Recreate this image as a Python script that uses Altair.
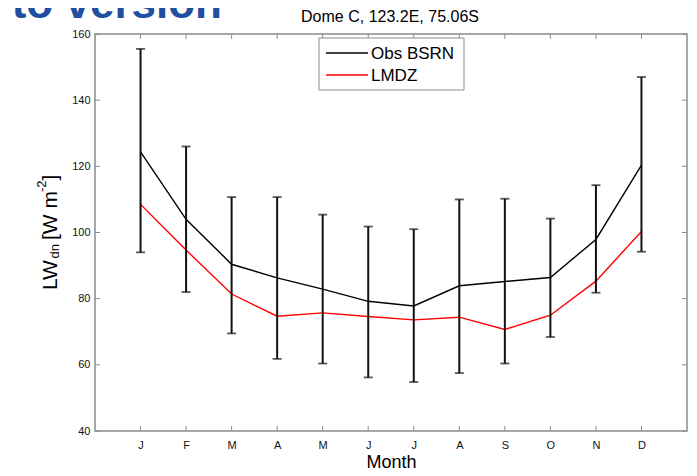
import json
import altair as alt
import pandas as pd

# ---------------- data ----------------
months = ["J", "F", "M", "A", "M", "J", "J", "A", "S", "O", "N", "D"]
month_num = [1, 2, 3, 4, 5, 6, 7, 8, 9, 10, 11, 12]
obs_bsrn = [124.4, 104.0, 90.4, 86.3, 82.9, 79.2, 77.8, 83.9, 85.2, 86.4, 97.9, 120.4]
lmdz = [108.5, 94.7, 81.4, 74.7, 75.7, 74.6, 73.6, 74.4, 70.7, 75.0, 85.3, 100.3]
err_high = [155.5, 126.0, 110.7, 110.7, 105.4, 101.8, 101.0, 110.0, 110.2, 104.2, 114.3, 147.0]
err_low = [94.0, 82.0, 69.5, 61.8, 60.4, 56.2, 54.8, 57.5, 60.4, 68.4, 81.8, 94.2]
y_ticks = [40, 60, 80, 100, 120, 140, 160]
x_domain = [0, 13]
y_domain = [40, 160]
series_names = ["Obs BSRN", "LMDZ"]
series_colors = ["#000000", "#ff0000"]
title_text = "Dome C, 123.2E, 75.06S"
x_title = "Month"
slide_text = "to version"

# ---------------- layout / style ----------------
W, H = 592, 397
FONT = "Liberation Sans"
FRAME = "#8c8c8c"
BAR = "#111111"

df = pd.DataFrame({"m": month_num, "month": months, "obs": obs_bsrn,
                   "lmdz": lmdz, "hi": err_high, "lo": err_low})

x_scale = alt.Scale(domain=x_domain, nice=False, zero=False)
y_scale = alt.Scale(domain=y_domain, nice=False, zero=False)
label_expr = json.dumps(months) + "[datum.value - 1]"

x_axis = alt.Axis(values=month_num, labelExpr=label_expr, title=x_title,
                  labelPadding=8, titlePadding=3, labelFontSize=11, titleFontSize=18)
y_axis = alt.Axis(values=y_ticks, title=None, labelPadding=5, labelFontSize=11)


def X(field):
    return alt.X(field, type="quantitative", scale=x_scale, axis=x_axis)


def Y(field):
    return alt.Y(field, type="quantitative", scale=y_scale, axis=y_axis)


one = pd.DataFrame({"k": [0]})

# frame ticks (inward), drawn from tick values through the scales
xt = pd.DataFrame({"m": month_num, "ybot": [y_domain[0]] * len(month_num),
                   "ytop": [y_domain[1]] * len(month_num)})
yt = pd.DataFrame({"v": y_ticks, "xl": [x_domain[0]] * len(y_ticks),
                   "xr": [x_domain[1]] * len(y_ticks)})

tick_bottom = alt.Chart(xt).mark_rule(color=FRAME, strokeWidth=1).encode(
    x=X("m"), y=Y("ybot"), y2=alt.value(H - 5))
tick_top = alt.Chart(xt).mark_rule(color=FRAME, strokeWidth=1).encode(
    x=X("m"), y=Y("ytop"), y2=alt.value(5))
tick_left = alt.Chart(yt).mark_rule(color=FRAME, strokeWidth=1).encode(
    x=X("xl"), x2=alt.value(5), y=Y("v"))
tick_right = alt.Chart(yt).mark_rule(color=FRAME, strokeWidth=1).encode(
    x=X("xr"), x2=alt.value(W - 5), y=Y("v"))

# data marks
obs_line = alt.Chart(df).mark_line(color=series_colors[0], strokeWidth=1.4).encode(
    x=X("m"), y=Y("obs"))
lmdz_line = alt.Chart(df).mark_line(color=series_colors[1], strokeWidth=1.4).encode(
    x=X("m"), y=Y("lmdz"))
err_rule = alt.Chart(df).mark_rule(color=BAR, strokeWidth=2).encode(
    x=X("m"), y=Y("lo"), y2="hi")
cap_hi = alt.Chart(df).mark_tick(orient="horizontal", color=BAR, size=9, thickness=1.8).encode(
    x=X("m"), y=Y("hi"))
cap_lo = alt.Chart(df).mark_tick(orient="horizontal", color=BAR, size=9, thickness=1.8).encode(
    x=X("m"), y=Y("lo"))

# legend (box with line samples)
legend_box = alt.Chart(one).mark_rect(fill="white", stroke=FRAME, strokeWidth=1).encode(
    x=alt.value(224), x2=alt.value(369), y=alt.value(4), y2=alt.value(56))
legend_layers = [legend_box]
for i, (name, col) in enumerate(zip(series_names, series_colors)):
    ldf = pd.DataFrame({"name": [name]})
    legend_layers.append(alt.Chart(ldf).mark_rule(color=col, strokeWidth=1.4).encode(
        x=alt.value(231), x2=alt.value(273), y=alt.value(19 + 22 * i)))
    legend_layers.append(alt.Chart(ldf).mark_text(
        font=FONT, fontSize=17, align="left", baseline="middle", color="#000").encode(
        x=alt.value(276), y=alt.value(20 + 22 * i), text="name:N"))

# title
title = alt.Chart(one).mark_text(font=FONT, fontSize=16, align="center",
                                 baseline="alphabetic", color="#000").encode(
    x=alt.value(W / 2 - 1), y=alt.value(-12), text=alt.value(title_text))

# leftover slide heading fragment (top-left, cut off in the reference too)
slide = alt.Chart(one).mark_text(font=FONT, fontSize=44, fontWeight="bold",
                                 align="right", baseline="alphabetic",
                                 color="#1f4fa0").encode(
    x=alt.value(127), y=alt.value(-16), text=alt.value(slide_text))

# y-axis title with subscript / superscript pieces
ylab_parts = [
    ("LW", 21, -38, 256),
    ("dn", 13, -36, 224.5),
    ("[W m", 21, -38, 206),
    ("-2", 13, -49, 158),
    ("]", 21, -38, 146.5),
]
ylab_layers = []
for txt, fs, xx, yy in ylab_parts:
    ylab_layers.append(alt.Chart(one).mark_text(
        font=FONT, fontSize=fs, angle=270, align="left", baseline="alphabetic",
        color="#000").encode(x=alt.value(xx), y=alt.value(yy), text=alt.value(txt)))

chart = alt.layer(
    tick_bottom, tick_top, tick_left, tick_right,
    obs_line, lmdz_line, err_rule, cap_hi, cap_lo,
    *legend_layers, title, slide, *ylab_layers,
).properties(
    width=W, height=H,
    autosize=alt.AutoSizeParams(type="none"),
    padding={"left": 87, "top": 26, "right": 2, "bottom": 40},
).configure_view(
    stroke=FRAME, strokeWidth=1.5
).configure_axis(
    domain=False, ticks=False, grid=False,
    labelFont=FONT, titleFont=FONT, labelColor="#111", titleColor="#000",
    titleFontWeight="normal",
)

chart.save("out.html", embed_options={"renderer": "svg", "actions": False})
